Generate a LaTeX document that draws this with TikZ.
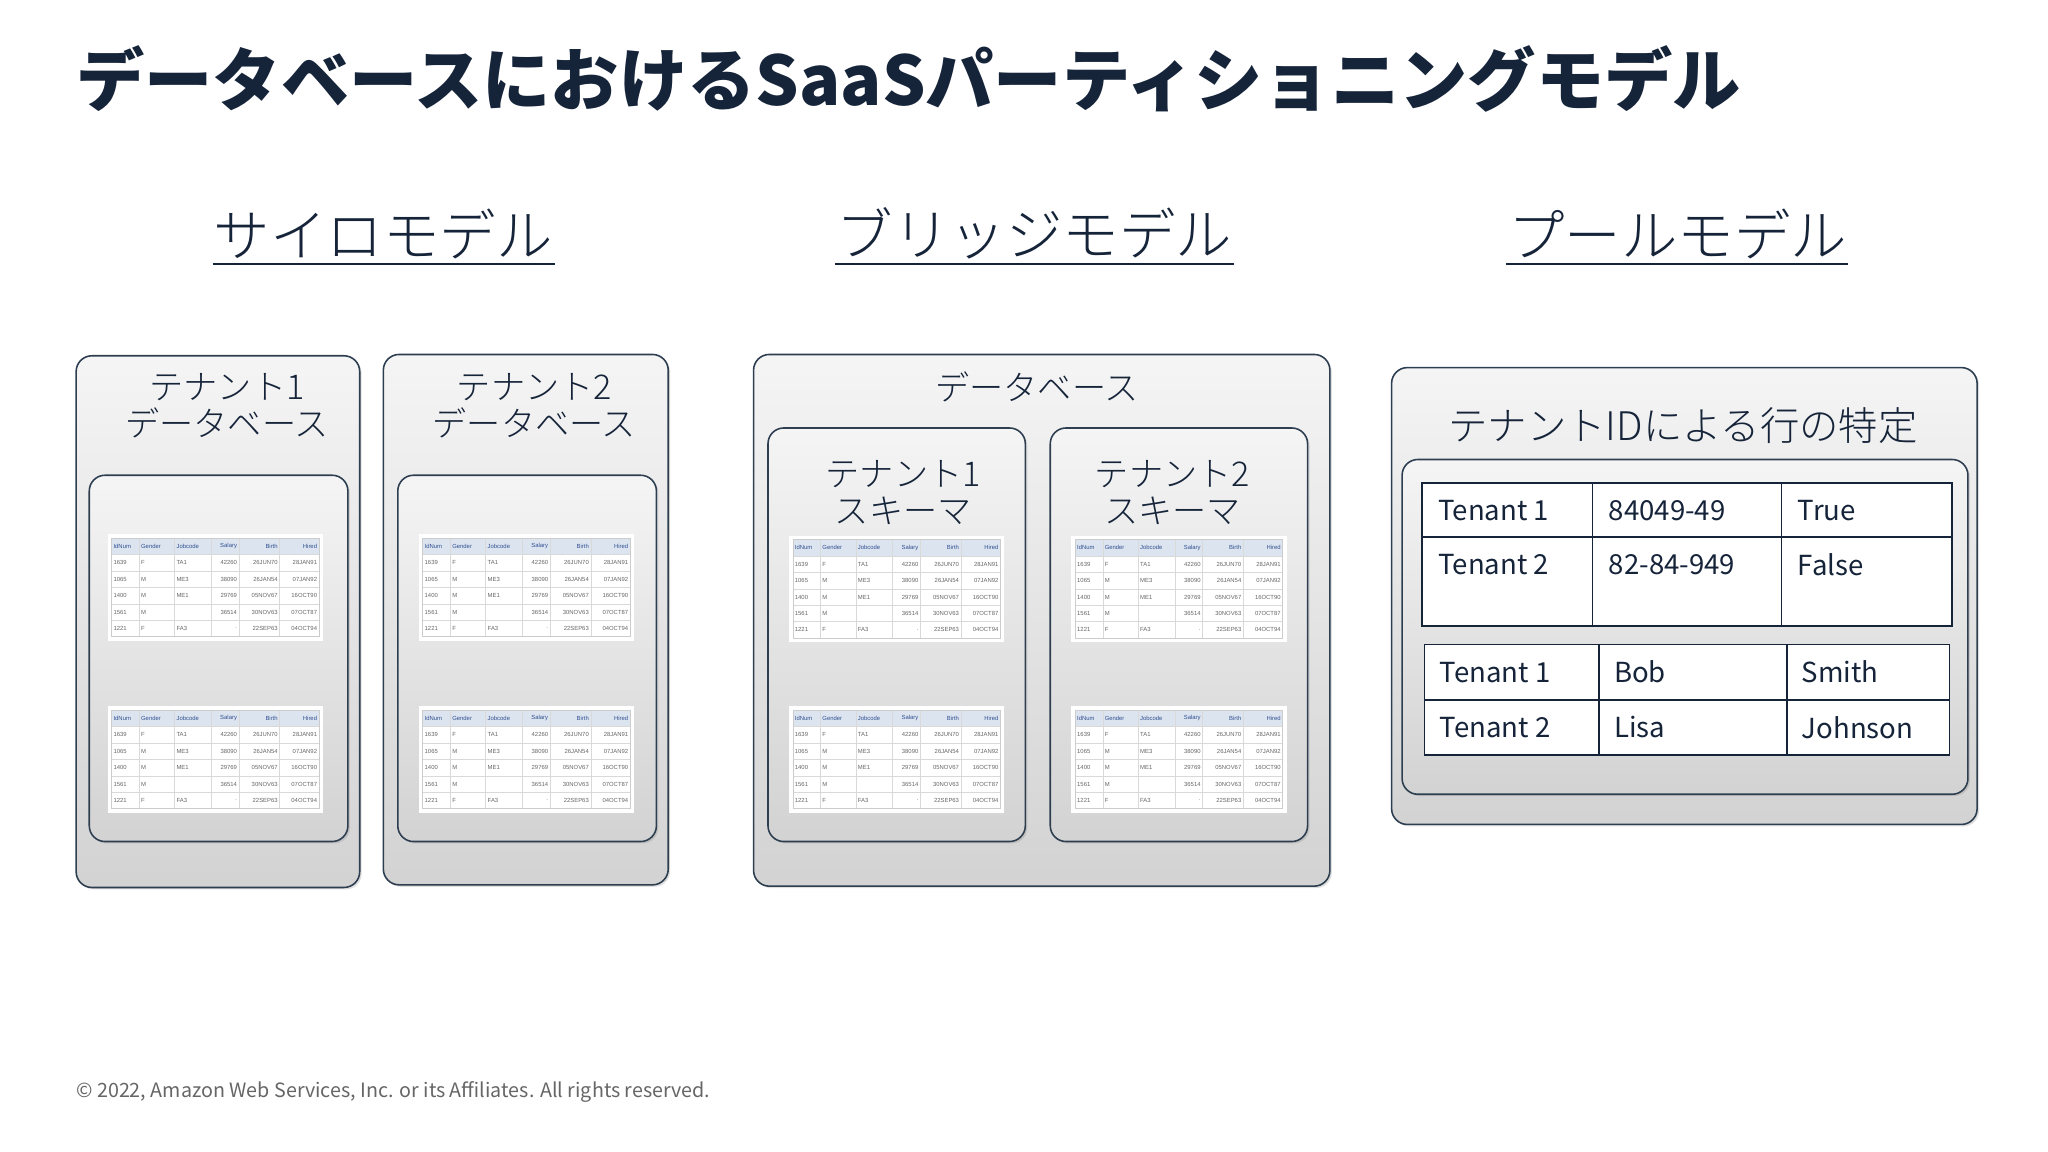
\documentclass[tikz,border=0pt]{standalone}
\usepackage{fontspec}
\setmainfont{Noto Sans CJK JP}
\newfontfamily\jpl{Noto Sans CJK JP Light}
\newfontfamily\arl{Liberation Sans}
\usetikzlibrary{shadows}
\definecolor{navy}{HTML}{16243A}
\definecolor{edge}{HTML}{2D3E50}
\definecolor{hdr}{HTML}{DCE4F0}
\definecolor{hdrt}{HTML}{2F4F8F}
\tikzset{
  box/.style={draw=edge,line width=1.2pt,rounded corners=12pt,top color=gray!8,bottom color=gray!35,drop shadow={opacity=0.25,shadow xshift=1.5pt,shadow yshift=-1.5pt}},
  lbl/.style={text=navy,font=\fontsize{26}{30}\selectfont\jpl,align=center},
  head/.style={text=navy,font=\fontsize{43}{48}\selectfont\jpl},
  tt/.style={font=\fontsize{4.5}{4.5}\selectfont\arl,text=black!60,inner sep=0.8pt},
  pt/.style={text=navy,font=\fontsize{21}{24}\selectfont,anchor=west},
  grid/.style={draw=navy,line width=1.2pt}
}
\newcommand\minitab[2]{%
\begin{scope}[shift={(#1,#2)}]
\fill[white] (-3,-3) rectangle (161,78);
\fill[hdr] (0,0) rectangle (158,12.5);
\foreach \y in {12.5,25,37.5,50,62.5}{\draw[gray!30,line width=0.4pt] (0,\y) -- (158,\y);}
\foreach \x in {0,21,48,76,97,128,158}{\draw[gray!30,line width=0.4pt] (\x,0) -- (\x,75);}
\draw[gray!40,line width=0.4pt] (0,0) rectangle (158,75);
\foreach \a/\b/\c/\d/\e/\f [count=\r] in {IdNum/Gender/Jobcode/Salary/Birth/Hired,1639/F/TA1/42260/26JUN70/28JAN91,1065/M/ME3/38090/26JAN54/07JAN92,1400/M/ME1/29769/05NOV67/16OCT90,1561/M/{}/36514/30NOV63/07OCT87,1221/F/FA3/./22SEP63/04OCT94}{
  \pgfmathsetmacro\yy{(\r-0.5)*12.5}
  \ifnum\r=1 \def\tc{hdrt}\else\def\tc{black!60}\fi
  \node[tt,text=\tc,anchor=west] at (0.5,\yy) {\a};
  \node[tt,text=\tc,anchor=west] at (21.5,\yy) {\b};
  \node[tt,text=\tc,anchor=west] at (48.5,\yy) {\c};
  \node[tt,text=\tc,anchor=east] at (96.5,\yy) {\d};
  \node[tt,text=\tc,anchor=east] at (127.5,\yy) {\e};
  \node[tt,text=\tc,anchor=east] at (157.5,\yy) {\f};
}
\end{scope}}
\begin{document}
\begin{tikzpicture}[x=1pt,y=-1pt]
\useasboundingbox[fill=white] (0,0) rectangle (1560,877.5);
% title
\node[anchor=west,text=navy,font=\fontsize{52}{56}\selectfont\bfseries,inner sep=0pt] (title) at (58,60) {データベースにおけるSaaSパーティショニングモデル};
% headings
\node[head] (h1) at (292,178) {サイロモデル};
\node[head] (h2) at (788,178) {ブリッジモデル};
\node[head] (h3) at (1278,178) {プールモデル};
\draw[navy,line width=1.3pt] (162,201) -- (423,201);
\draw[navy,line width=1.3pt] (636,201) -- (940,201);
\draw[navy,line width=1.3pt] (1147,201) -- (1408,201);
% silo
\path[box] (58,271) rectangle (274,676);
\path[box] (292,270) rectangle (509,674);
\node[lbl] (s1) at (173,309) {テナント1\\[-2pt]データベース};
\node[lbl] (s2) at (407,309) {テナント2\\[-2pt]データベース};
\path[box] (68,362) rectangle (265,641);
\path[box] (303,362) rectangle (500,641);
\minitab{85}{410}\minitab{85}{541}
\minitab{322}{410}\minitab{322}{541}
% bridge
\path[box] (574,270) rectangle (1013,675);
\node[lbl] (bd) at (790,295) {データベース};
\path[box] (585,326) rectangle (781,641);
\path[box] (800,326) rectangle (996,641);
\node[lbl] (b1) at (688,375) {テナント1\\[-2pt]スキーマ};
\node[lbl] (b2) at (893,375) {テナント2\\[-2pt]スキーマ};
\minitab{604}{411}\minitab{604}{541}
\minitab{819}{411}\minitab{819}{541}
% pool
\path[box] (1060,280) rectangle (1506,628);
\node[lbl,font=\fontsize{30}{34}\selectfont\jpl] (pl) at (1282,324) {テナントIDによる行の特定};
\path[box] (1068,350) rectangle (1499,605);
\fill[white] (1083,368) rectangle (1487,477);
\draw[grid] (1083,368) rectangle (1487,477);
\draw[grid] (1213,368) -- (1213,477) (1357,368) -- (1357,477) (1083,409) -- (1487,409);
\fill[white] (1085,491) rectangle (1485,575);
\draw[grid] (1085,491) rectangle (1485,575);
\draw[grid] (1218,491) -- (1218,575) (1361,491) -- (1361,575) (1085,533) -- (1485,533);
\node[pt] (p11) at (1092,389) {Tenant 1};
\node[pt] (p12) at (1222,389) {84049-49};
\node[pt] (p13) at (1366,389) {True};
\node[pt] (p21) at (1092,430) {Tenant 2};
\node[pt] (p22) at (1222,430) {82-84-949};
\node[pt] (p23) at (1366,430) {False};
\node[pt] (q11) at (1093,512) {Tenant 1};
\node[pt] (q12) at (1226,512) {Bob};
\node[pt] (q13) at (1369,512) {Smith};
\node[pt] (q21) at (1093,554) {Tenant 2};
\node[pt] (q22) at (1226,554) {Lisa};
\node[pt] (q23) at (1369,554) {Johnson};
% footer
\node[anchor=west,text=black!60,font=\fontsize{15}{17}\selectfont,inner sep=0pt] (ft) at (58,832) {© 2022, Amazon Web Services, Inc. or its Affiliates. All rights reserved.};
\end{tikzpicture}
\end{document}
